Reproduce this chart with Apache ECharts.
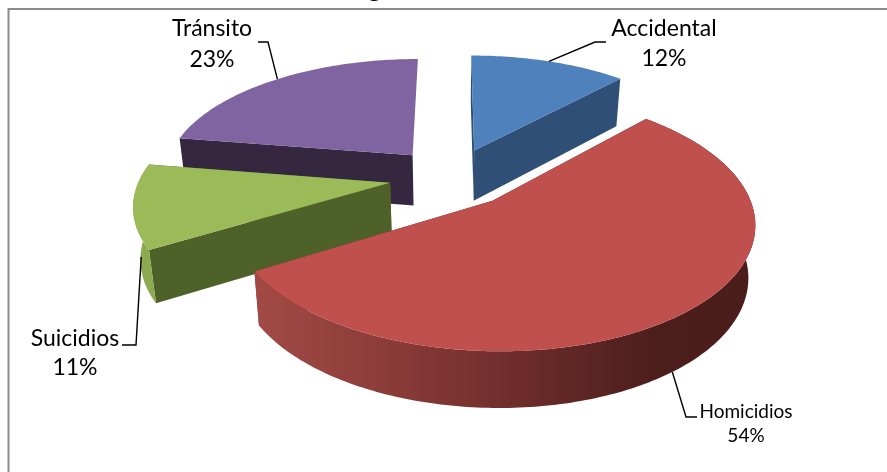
<!DOCTYPE html>
<html><head><meta charset="utf-8">
<style>html,body{margin:0;padding:0;background:#fff}#c{width:887px;height:472px}</style>
<script src="https://cdn.jsdelivr.net/npm/echarts@6/dist/echarts.min.js"></script>
</head><body><div id="c"></div>
<script>
var categories = ['Accidental','Homicidios','Suicidios','Tránsito'];
var values = [12,54.4,11.1,22.5];
var labels = ['12%','54%','11%','23%'];

var topColors = ['#4F81BD','#C0504D','#9BBB59','#8064A2'];
var cutColors = ['#2F4F76','#6E2C2A','#4E6128','#35273F'];
var paintRank = [1,4,3,2];
// camera
var CX=452, CY=177, RX=250, RY=118, K=0.16, EXPL=0.25, DEPTH=51, LEAN=0.023;
// label layout
var labelLayout = [
  {x:664,y1:29,y2:59,fs:23,anchorDeg:21.6,frac:0,pts:[[595,42],[606,42]]},
  {x:746,y1:412,y2:436,fs:19,anchorDeg:143,frac:1,pts:[[686,417],[697,417]]},
  {x:75,y1:339,y2:368,fs:23,anchorDeg:248,frac:0.5,pts:[[136,345],[122,345]]},
  {x:212,y1:29,y2:60,fs:23,anchorDeg:320,frac:0,pts:[[268,42],[258,42]]}
];
var FONT='Lato';

function project(U,V,low){
  var w=1/(1-K*V);
  var x=CX+RX*U*w, y=CY+RY*V*w;
  if(low){ y+=DEPTH*Math.sqrt(w); x-=(x-CX)*LEAN; }
  return [x,y];
}
function ptOn(i,deg,r,low,mid){
  var b=mid*Math.PI/180, t=deg*Math.PI/180;
  return project(EXPL*Math.sin(b)+r*Math.sin(t), -EXPL*Math.cos(b)-r*Math.cos(t), low);
}
var total=values.reduce(function(a,b){return a+b},0);
function renderItem(params,api){
  var i=params.dataIndex, before=0;
  for(var j=0;j<i;j++) before+=values[j];
  var a0=before/total*360, a1=(before+api.value(0))/total*360, mid=(a0+a1)/2, rank=paintRank[i]*10;
  var topArc=[],lowArc=[];
  for(var d=a0;d<a1;d+=1){topArc.push(ptOn(i,d,1,false,mid));lowArc.push(ptOn(i,d,1,true,mid));}
  topArc.push(ptOn(i,a1,1,false,mid));lowArc.push(ptOn(i,a1,1,true,mid));
  var apex=ptOn(i,0,0,false,mid), apexL=ptOn(i,0,0,true,mid);
  var kids=[];
  var tf=topArc[0], tl=topArc[topArc.length-1], lf=lowArc[0], ll=lowArc[lowArc.length-1];
  function poly(pts,fill,z){kids.push({type:'polygon',shape:{points:pts},style:{fill:fill,stroke:null},z2:rank+z,silent:true});}
  poly([apex,tf,lf,apexL],cutColors[i],1);
  if(i!==3) poly([apex,tl,ll,apexL],cutColors[i],1);
  if(i===1){
    poly(topArc.concat(lowArc.slice().reverse()),new echarts.graphic.LinearGradient(254,0,756,0,[
      {offset:0,color:'#A24A46'},{offset:0.28,color:'#8A3B38'},{offset:0.55,color:'#6A2B29'},{offset:0.8,color:'#4C1E1C'},{offset:1,color:'#4A1D1B'}],true),2);
  } else if(i===2){
    poly(topArc.concat(lowArc.slice().reverse()),'#8CAA50',2);
  }
  poly([apex].concat(topArc),topColors[i],3);
  // leader and label
  var L=labelLayout[i];
  var pa=ptOn(i,L.anchorDeg,1,false,mid), pb=ptOn(i,L.anchorDeg,1,true,mid);
  var anchor=[pa[0]+(pb[0]-pa[0])*L.frac, pa[1]+(pb[1]-pa[1])*L.frac];
  kids.push({type:'polyline',shape:{points:[anchor].concat(L.pts)},style:{fill:null,stroke:'#000',lineWidth:1.4},z2:100,silent:true});
  var tstyle={font:L.fs+'px '+FONT,fill:'#000',textAlign:'center',textVerticalAlign:'middle'};
  kids.push({type:'text',x:L.x,y:L.y1,style:Object.assign({text:categories[i]},tstyle),z2:101,silent:true});
  kids.push({type:'text',x:L.x,y:L.y2,style:Object.assign({text:labels[i]},tstyle),z2:101,silent:true});
  return {type:'group',children:kids};
}
var chart=echarts.init(document.getElementById('c'),null,{renderer:'canvas'});
chart.setOption({
  animation:false,
  backgroundColor:'#fff',
  graphic:[
    {type:'polyline',silent:true,z:-1,shape:{points:[[8.5,472],[8.5,9],[887,9]]},style:{fill:null,stroke:'#8C8C8C',lineWidth:2}},
    {type:'text',silent:true,left:368,top:-24,style:{text:'g',font:'bold 26px Lato',fill:'#000'}}
  ],
  series:[{type:'custom',coordinateSystem:'none',renderItem:renderItem,data:values.map(function(v){return [v]}),clip:false}]
});
</script></body></html>
